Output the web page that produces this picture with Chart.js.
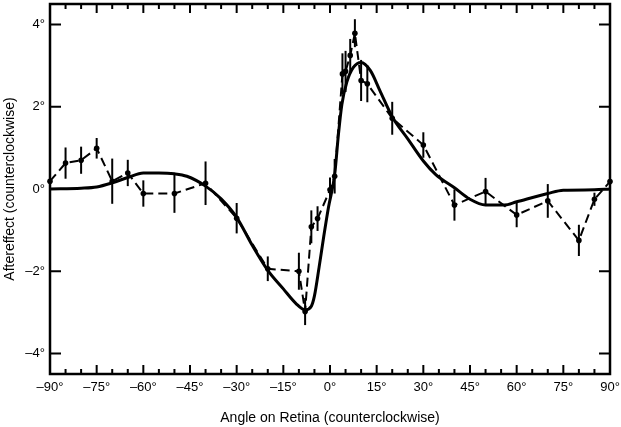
<!DOCTYPE html>
<html>
<head>
<meta charset="utf-8">
<script src="https://cdn.jsdelivr.net/npm/chart.js@4.4.1/dist/chart.umd.min.js"></script>
<style>
    html, body { margin: 0; padding: 0; background: #fff; }
    #wrap { width: 621px; height: 427px; }
</style>
</head>
<body>
<div id="wrap"><canvas id="afterChart" width="621" height="427"></canvas></div>
<script>
// Measured aftereffect (dashed, with error bars)
const angles = [-90, -85, -80, -75, -70, -65, -60, -50, -40, -30, -20, -10, -8, -6, -4, 0, 1.5,
    4, 5, 6.5, 8, 10, 12, 20, 30, 40, 50, 60, 70, 80, 85, 90];
const measured = [0.19, 0.63, 0.70, 0.99, 0.19, 0.39, -0.11, -0.11, 0.14, -0.71, -1.94, -2.0, -2.98, -0.92, -0.72, -0.02, 0.31,
    2.80, 2.86, 3.25, 3.79, 2.64, 2.56, 1.72, 1.07, -0.39, -0.06, -0.63, -0.29, -1.25, -0.25, 0.18];
const errors = [0.05, 0.38, 0.33, 0.25, 0.55, 0.32, 0.32, 0.47, 0.53, 0.37, 0.30, 0.45, 0.33, 0.40, 0.30, 0.30, 0.42,
    0.50, 0.50, 0.40, 0.34, 0.50, 0.45, 0.40, 0.31, 0.38, 0.33, 0.30, 0.41, 0.38, 0.16, 0.05];

// Model curve (solid)
const modelAngles = [-90, -80, -75, -70, -65, -60, -55, -50, -46, -40, -35, -30, -25, -20, -15, -11, -8, -6, -5, -3.5, -2, -0.5,
    1.5, 2.7, 3.8, 5.4, 7.5, 10, 13, 16, 20, 25, 30, 34, 40, 45, 50, 56, 60, 70, 75, 85, 90];
const modelValues = [0.0, 0.02, 0.05, 0.15, 0.28, 0.39, 0.39, 0.37, 0.31, 0.07, -0.24, -0.69, -1.37, -1.98, -2.43, -2.78, -2.94, -2.85, -2.6, -1.9, -1.15, -0.45,
    0.35, 1.32, 2.05, 2.6, 2.96, 3.08, 2.88, 2.40, 1.76, 1.22, 0.68, 0.35, 0.03, -0.25, -0.39, -0.39, -0.31, -0.11, -0.03, -0.02, 0.0];

const xTicks = [-90, -75, -60, -45, -30, -15, 0, 15, 30, 45, 60, 75, 90];
const yTicks = [-4, -2, 0, 2, 4];

const FONT = 'Liberation Sans, Arial, Helvetica, sans-serif';

function degLabel(v) {
    return (v < 0 ? '\u2013' + Math.abs(v) : v) + '\u00b0';
}

// Frame, inward tick marks and error bars
const framePlugin = {
    id: 'frame',
    afterDatasetsDraw(chart) {
        const ctx = chart.ctx;
        const xs = chart.scales.x;
        const ys = chart.scales.y;
        const a = chart.chartArea;
        ctx.save();
        ctx.strokeStyle = '#000';

        // error bars
        ctx.lineWidth = 2;
        angles.forEach((ang, i) => {
            const px = xs.getPixelForValue(ang);
            ctx.beginPath();
            ctx.moveTo(px, ys.getPixelForValue(measured[i] - errors[i]));
            ctx.lineTo(px, ys.getPixelForValue(measured[i] + errors[i]));
            ctx.stroke();
        });

        // box
        ctx.lineWidth = 2.5;
        ctx.strokeRect(a.left, a.top, a.right - a.left, a.bottom - a.top);

        // x ticks (major 15, minor 5) top and bottom
        ctx.lineWidth = 2;
        for (let v = -90; v <= 90; v += 5) {
            const px = xs.getPixelForValue(v);
            const len = v % 15 === 0 ? 9 : 5;
            ctx.beginPath();
            ctx.moveTo(px, a.bottom);
            ctx.lineTo(px, a.bottom - len);
            ctx.moveTo(px, a.top);
            ctx.lineTo(px, a.top + len);
            ctx.stroke();
        }
        // y ticks left and right
        yTicks.forEach(v => {
            const py = ys.getPixelForValue(v);
            ctx.beginPath();
            ctx.moveTo(a.left, py);
            ctx.lineTo(a.left + 11, py);
            ctx.moveTo(a.right, py);
            ctx.lineTo(a.right - 11, py);
            ctx.stroke();
        });
        ctx.restore();
    }
};

new Chart(document.getElementById('afterChart'), {
    type: 'line',
    data: {
        datasets: [
            {
                label: 'Model',
                data: modelAngles.map((a, i) => ({ x: a, y: modelValues[i] })),
                borderColor: '#000',
                borderWidth: 3,
                pointRadius: 0,
                cubicInterpolationMode: 'monotone',
                fill: false
            },
            {
                label: 'Measured',
                data: angles.map((a, i) => ({ x: a, y: measured[i] })),
                borderColor: '#000',
                backgroundColor: '#000',
                borderWidth: 2,
                borderDash: [9, 5],
                pointRadius: 2.8,
                pointBorderWidth: 0,
                tension: 0,
                clip: 4,
                fill: false
            }
        ]
    },
    options: {
        responsive: false,
        animation: false,
        devicePixelRatio: 1,
        layout: { padding: { top: 2, right: 11, left: 0, bottom: 0 } },
        plugins: {
            legend: { display: false },
            tooltip: { enabled: false }
        },
        scales: {
            x: {
                type: 'linear',
                min: -90,
                max: 90,
                afterBuildTicks: s => { s.ticks = xTicks.map(v => ({ value: v })); },
                afterFit: s => { s.height = 53; s.paddingLeft = 0; s.paddingRight = 0; },
                grid: { display: false, drawTicks: false },
                border: { display: false },
                ticks: {
                    color: '#000',
                    padding: 6,
                    maxRotation: 0,
                    autoSkip: false,
                    font: { family: FONT, size: 13 },
                    callback: v => degLabel(v)
                },
                title: {
                    display: true,
                    text: 'Angle on Retina (counterclockwise)',
                    color: '#000',
                    padding: { top: 12, bottom: 0 },
                    font: { family: FONT, size: 14 }
                }
            },
            y: {
                type: 'linear',
                min: -4.5,
                max: 4.5,
                afterBuildTicks: s => { s.ticks = yTicks.map(v => ({ value: v })); },
                afterFit: s => { s.width = 50; s.paddingTop = 0; s.paddingBottom = 0; },
                grid: { display: false, drawTicks: false },
                border: { display: false },
                ticks: {
                    color: '#000',
                    padding: 5,
                    font: { family: FONT, size: 13 },
                    callback: v => degLabel(v)
                },
                title: {
                    display: true,
                    text: 'Aftereffect (counterclockwise)',
                    color: '#000',
                    padding: { top: 2, bottom: 0 },
                    font: { family: FONT, size: 14 }
                }
            }
        }
    },
    plugins: [framePlugin]
});
</script>
</body>
</html>
